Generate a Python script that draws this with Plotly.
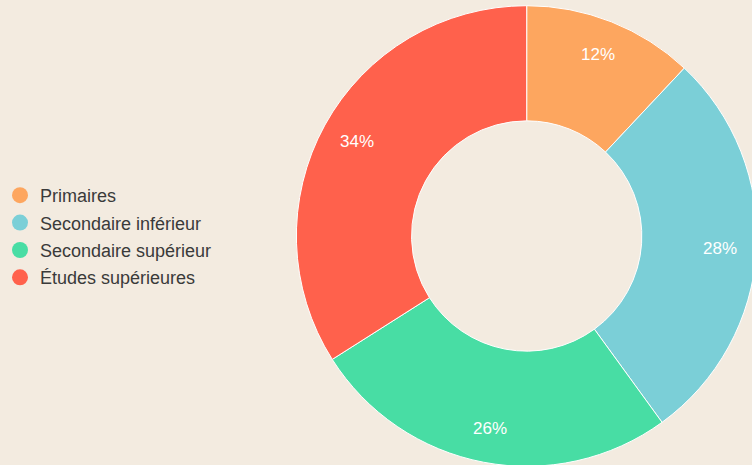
import math
import plotly.graph_objects as go

categories = ["Primaires", "Secondaire inférieur", "Secondaire supérieur", "Études supérieures"]
values = [12, 28, 26, 34]
colors = ["#FDA65F", "#7BCFD7", "#48DDA4", "#FF614C"]

W, H = 760, 472
dom_x = [0.3835, 0.996]
dom_y = [0.0, 1.0]

fig = go.Figure()
fig.add_trace(go.Pie(
    labels=categories, values=values, hole=0.5, sort=False,
    direction="clockwise", rotation=0,
    marker=dict(colors=colors, line=dict(color="#FFFFFF", width=1)),
    textinfo="none",
    hoverinfo="label+percent", showlegend=False,
    domain=dict(x=dom_x, y=dom_y),
))
for i, (name, c) in enumerate(zip(categories, colors)):
    fig.add_trace(go.Scatter(
        x=[None], y=[None], mode="markers", name=name,
        marker=dict(color=c, size=17, symbol="circle"),
        legendgroup=f"g{i}", showlegend=True,
    ))

# label positions derived from the data (angle of each slice's middle)
cx = (dom_x[0] + dom_x[1]) / 2 * W
cy = H - (dom_y[0] + dom_y[1]) / 2 * H
R = min((dom_x[1] - dom_x[0]) * W, (dom_y[1] - dom_y[0]) * H) / 2
total = sum(values)
cum = 0
annotations = []
for v in values:
    theta = 2 * math.pi * (cum + v / 2) / total
    cum += v
    px = cx + 0.84 * R * math.sin(theta)
    py = cy - 0.84 * R * math.cos(theta)
    annotations.append(dict(
        x=px / W, y=1 - py / H, xref="paper", yref="paper",
        xanchor="center", yanchor="middle",
        text=f"{v}%", showarrow=False,
        font=dict(color="#FFFFFF", size=17, family="Liberation Sans, Arial, sans-serif"),
    ))

fig.update_layout(
    width=W, height=H,
    margin=dict(l=0, r=0, t=0, b=0),
    paper_bgcolor="#F3EBE0", plot_bgcolor="#F3EBE0",
    xaxis=dict(visible=False), yaxis=dict(visible=False),
    legend=dict(x=-0.011, xanchor="left", y=0.499, yanchor="middle",
                font=dict(size=18, color="#3A3A3A", family="Liberation Sans, Arial, sans-serif"),
                tracegroupgap=1, bgcolor="rgba(0,0,0,0)"),
    annotations=annotations,
)
fig.write_html("out.html", config={"displayModeBar": False},
               post_script="document.body.style.margin='0';document.body.style.overflow='hidden';"
                           "document.body.style.background='#F3EBE0';")
